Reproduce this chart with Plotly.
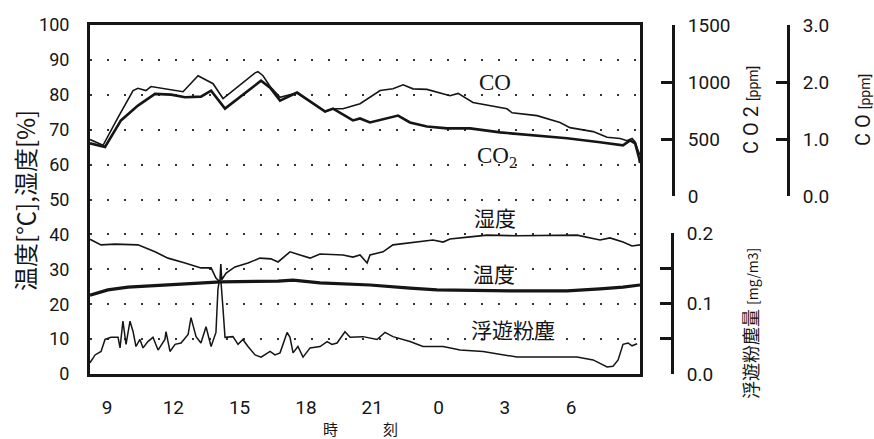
import plotly.graph_objects as go

# ---------------- data ----------------
# time in hours from midnight of day 1 (24 = 0h next day)
tick_hours = [9, 12, 15, 18, 21, 24, 27, 30]
tick_labels = ["9", "12", "15", "18", "21", "0", "3", "6"]

co_h = [8.23, 8.60, 8.82, 9.50, 10.18, 10.40, 10.76, 10.99, 12.44, 13.12,
        13.80, 14.25, 15.70, 15.83, 16.06, 16.38, 16.83, 17.60, 18.87, 19.23,
        19.68, 20.45, 21.36, 21.94, 22.40, 22.85, 23.48, 24.52, 24.89, 25.56,
        27.10, 27.33, 28.46, 29.50, 29.95, 31.00, 31.63, 32.22, 32.53, 32.76,
        32.90, 33.03, 33.12]
co_ppm = [0.99, 0.92, 0.89, 1.38, 1.85, 1.89, 1.85, 1.92, 1.83, 2.11,
          1.97, 1.71, 2.16, 2.18, 2.11, 1.92, 1.73, 1.81, 1.48, 1.53,
          1.53, 1.62, 1.85, 1.88, 1.95, 1.88, 1.87, 1.76, 1.80, 1.64,
          1.53, 1.46, 1.41, 1.29, 1.20, 1.13, 1.03, 1.01, 0.97, 1.01,
          0.95, 0.80, 0.72]

co2_h = [8.23, 8.91, 9.63, 10.40, 11.17, 11.90, 12.53, 13.25, 13.71, 14.34,
         15.97, 16.38, 16.83, 17.60, 18.87, 19.23, 20.13, 20.45, 20.90, 22.17,
         22.71, 23.48, 24.39, 25.43, 26.79, 28.28, 29.82, 31.31, 32.35, 32.67,
         32.90, 33.08, 33.12]
co2_ppm = [462, 430, 663, 793, 896, 889, 866, 872, 924, 767,
           1012, 950, 837, 907, 741, 767, 663, 680, 645, 706,
           645, 610, 593, 593, 558, 532, 506, 471, 445, 488,
           462, 331, 290]

hum_h = [8.23, 8.73, 9.36, 10.40, 11.17, 11.76, 12.53, 13.25, 13.71, 13.93,
         14.11, 14.15, 14.19, 14.39, 14.79, 15.38, 15.92, 16.42, 16.74, 17.28,
         18.19, 18.64, 19.68, 20.13, 20.45, 20.77, 20.90, 21.49, 21.94, 22.58,
         23.17, 23.75, 24.21, 24.52, 25.43, 26.20, 27.56, 30.27, 31.31, 31.76,
         32.35, 32.76, 33.12]
hum_pct = [38.6, 37.0, 37.2, 37.0, 35.0, 33.2, 31.8, 30.4, 30.4, 27.5,
           26.4, 31.5, 27.0, 28.9, 30.7, 31.8, 33.2, 33.0, 32.1, 35.0,
           33.2, 34.4, 34.1, 33.5, 34.1, 31.8, 34.1, 35.0, 37.0, 37.5,
           38.1, 38.4, 37.8, 38.7, 39.3, 39.8, 39.6, 39.8, 38.4, 39.0,
           37.8, 36.7, 37.0]

temp_h = [8.23, 8.59, 9.04, 9.95, 11.90, 14.16, 16.74, 17.42, 18.64, 20.90,
          22.71, 23.93, 27.56, 29.82, 31.31, 32.35, 33.12]
temp_c = [22.6, 23.2, 24.1, 24.9, 25.5, 26.4, 26.6, 26.9, 26.1, 25.5,
          24.6, 24.1, 23.8, 23.8, 24.4, 24.9, 25.5]

dust_h = [8.23, 8.46, 8.73, 8.91, 9.18, 9.50, 9.59, 9.72, 9.86, 10.04,
          10.18, 10.31, 10.49, 10.63, 10.85, 11.08, 11.31, 11.62, 11.67, 11.85,
          12.08, 12.35, 12.67, 12.80, 13.03, 13.25, 13.48, 13.71, 13.93, 14.02,
          14.07, 14.16, 14.25, 14.34, 14.70, 14.93, 15.15, 15.38, 15.70, 15.97,
          16.38, 16.60, 16.83, 17.15, 17.28, 17.42, 17.64, 17.87, 18.19, 18.64,
          18.96, 19.18, 19.41, 19.77, 20.00, 20.59, 21.22, 21.58, 21.94, 22.71,
          23.30, 24.21, 24.98, 26.02, 27.56, 29.05, 30.27, 31.00, 31.63, 31.90,
          32.13, 32.35, 32.58, 32.76, 32.99]
dust_mg = [0.016, 0.027, 0.032, 0.049, 0.052, 0.052, 0.037, 0.075, 0.042, 0.075,
           0.060, 0.039, 0.049, 0.037, 0.046, 0.052, 0.034, 0.049, 0.060, 0.032,
           0.042, 0.044, 0.056, 0.080, 0.053, 0.044, 0.067, 0.039, 0.059, 0.120,
           0.130, 0.130, 0.092, 0.052, 0.053, 0.042, 0.049, 0.039, 0.027, 0.024,
           0.032, 0.027, 0.030, 0.059, 0.052, 0.030, 0.039, 0.024, 0.037, 0.039,
           0.046, 0.042, 0.044, 0.060, 0.052, 0.053, 0.049, 0.059, 0.053, 0.046,
           0.039, 0.039, 0.034, 0.032, 0.024, 0.024, 0.024, 0.020, 0.010, 0.011,
           0.020, 0.042, 0.044, 0.040, 0.043]

# ---------------- styling ----------------
NUM_FONT = "Roboto, DejaVu Sans, sans-serif"
CJK_FONT = "Noto Sans CJK JP, sans-serif"
SERIF = "Liberation Serif, serif"
INK = "#151515"

fig = go.Figure()
fig.add_trace(go.Scatter(x=co2_h, y=co2_ppm, mode="lines", yaxis="y2",
                         line=dict(color=INK, width=2.6), showlegend=False))
fig.add_trace(go.Scatter(x=co_h, y=co_ppm, mode="lines", yaxis="y3",
                         line=dict(color=INK, width=1.6), showlegend=False))
fig.add_trace(go.Scatter(x=hum_h, y=hum_pct, mode="lines", yaxis="y",
                         line=dict(color=INK, width=1.6), showlegend=False))
fig.add_trace(go.Scatter(x=temp_h, y=temp_c, mode="lines", yaxis="y",
                         line=dict(color=INK, width=3.2), showlegend=False))
fig.add_trace(go.Scatter(x=dust_h, y=dust_mg, mode="lines", yaxis="y4",
                         line=dict(color=INK, width=1.5), showlegend=False))

XDOM = 550 / 774

right_axis = dict(anchor="free", side="right", showline=True, linewidth=3,
                  linecolor=INK, ticks="inside", ticklen=11, tickwidth=2.5,
                  tickcolor=INK, showgrid=False, zeroline=False,
                  tickfont=dict(family=NUM_FONT, size=19, color=INK),
                  ticklabelstandoff=9)

fig.update_layout(
    width=874, height=439,
    margin=dict(l=90, r=10, t=25, b=65),
    paper_bgcolor="white", plot_bgcolor="rgba(0,0,0,0)",
    xaxis=dict(domain=[0, XDOM], range=[8.23, 33.12],
               tickvals=tick_hours, ticktext=tick_labels,
               showline=True, linewidth=3, linecolor=INK, mirror=True,
               showgrid=False, zeroline=False, ticks="",
               tickfont=dict(family=NUM_FONT, size=19, color=INK),
               ticklabelstandoff=14),
    yaxis=dict(domain=[0, 1], range=[0, 100], dtick=10,
               showline=True, linewidth=3, linecolor=INK, mirror=True,
               showgrid=True, gridcolor="#333", gridwidth=1.6,
               griddash="2px,15px", zeroline=False, ticks="",
               tickfont=dict(family=NUM_FONT, size=18, color=INK),
               ticklabelstandoff=14),
    yaxis2=dict(right_axis, domain=[0.51, 1], range=[0, 1500],
                tickvals=[0, 500, 1000, 1500], position=(673 - 90) / 774),
    yaxis3=dict(right_axis, domain=[0.51, 1], range=[0, 3.0],
                tickvals=[0, 1, 2, 3], tickformat=".1f",
                position=(788 - 90) / 774),
    yaxis4=dict(right_axis, domain=[0, 0.404], range=[0, 0.2],
                tickvals=[0, 0.1, 0.2], tickformat=".1f",
                minor=dict(tickvals=[0.05, 0.15], ticks="inside", ticklen=11,
                           tickwidth=2.5, tickcolor=INK),
                position=(672 - 90) / 774),
)

def px2paper(px, py):
    return (px - 90) / 774, (374 - py) / 349

annots = [
    # axis titles
    (24, 201, "温度[℃],湿度[%]", CJK_FONT, 24, -90),
    (751, 110, "C O 2 <span style='font-size:14px'>[ppm]</span>", NUM_FONT, 20, -90),
    (863, 110, "C O <span style='font-size:14px'>[ppm]</span>", NUM_FONT, 20, -90),
    (750, 324, "浮遊粉塵量 <span style='font-size:14px'>[mg/m3]</span>", CJK_FONT, 18, -90),
    (360, 429, "時\u3000\u3000\u3000刻", CJK_FONT, 15, 0),
    # in-plot series labels
    (495, 82, "CO", SERIF, 23, 0),
    (497, 157, "CO<sub>2</sub>", SERIF, 23, 0),
    (495, 217, "湿度", CJK_FONT, 21, 0),
    (494, 273, "温度", CJK_FONT, 21, 0),
    (513, 329, "浮遊粉塵", CJK_FONT, 21, 0),
]
for px, py, txt, fam, size, ang in annots:
    x, y = px2paper(px, py)
    fig.add_annotation(x=x, y=y, xref="paper", yref="paper", text=txt,
                       showarrow=False, textangle=ang,
                       xanchor="center", yanchor="middle",
                       font=dict(family=fam, size=size, color=INK))

fig.write_html("out.html")
